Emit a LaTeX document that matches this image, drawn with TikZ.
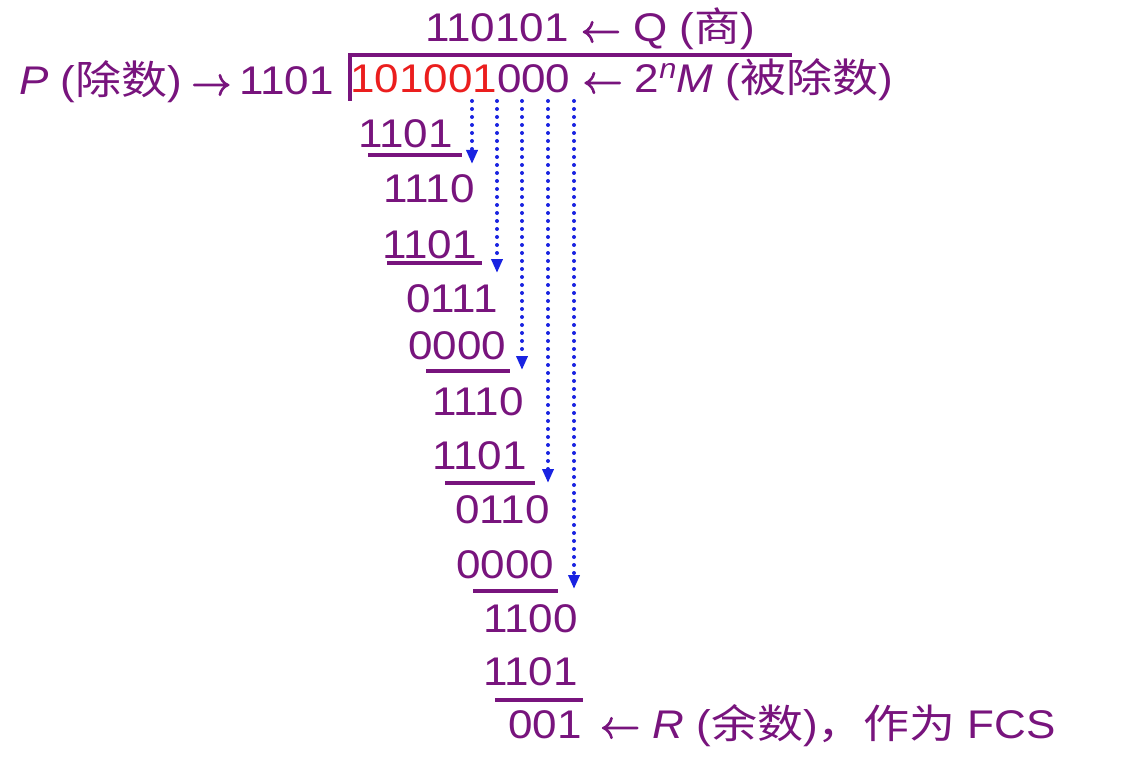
\documentclass[tikz,border=0pt]{standalone}
\usepackage{fontspec}
\usepackage{unicode-math}
\setmainfont{Liberation Sans}[FakeStretch=1.1]
\setmathfont{Latin Modern Math}[FakeBold=2.5]
\newfontfamily\cjk{Noto Sans CJK SC}[FakeStretch=1.15]
\usetikzlibrary{arrows.meta}
\definecolor{purp}{RGB}{120,20,125}
\definecolor{redd}{RGB}{235,30,30}
\definecolor{bluu}{RGB}{25,35,225}
\tikzset{
  txt/.style={inner sep=0pt, anchor=base west, text=purp, font=\fontsize{40}{48}\selectfont},
  rule/.style={draw=purp, line width=3.5pt},
  carry/.style={draw=bluu, line width=4pt, line cap=round, dash pattern=on 0pt off 8pt,
    -{Triangle[width=11pt,length=14pt]}},
}
\begin{document}
\begin{tikzpicture}[x=1pt,y=-1pt]
\useasboundingbox[fill=white] (0,0) rectangle (1126,762);
% header
\node[txt] (quot) at (425,42) {110101 $\leftarrow$ Q ({\cjk 商})};
\node[txt] (plabel) at (19,95) {\textit{P} ({\cjk 除数})};
\node[txt] (parrow) at (191,95) {$\rightarrow$};
\node[txt] (divisor) at (239,95) {1101};
\node[txt] (dividend) at (350,93) {{\color{redd}101001}000 $\leftarrow$ 2\textsuperscript{\textit{n}}\textit{M} ({\cjk 被除数})};
\draw[rule, line join=miter] (350,101) |- (792,55);
% rows
\node[txt] (r1) at (358,148) {1101};
\node[txt] (r2) at (383,202) {1110};
\node[txt] (r3) at (382,258) {1101};
\node[txt] (r4) at (406,312) {0111};
\node[txt] (r5) at (408,359) {0000};
\node[txt] (r6) at (432,415) {1110};
\node[txt] (r7) at (432,469) {1101};
\node[txt] (r8) at (455,523) {0110};
\node[txt] (r9) at (456,578) {0000};
\node[txt] (r10) at (483,632) {1100};
\node[txt] (r11) at (483,685) {1101};
\node[txt] (r12) at (508,738) {001};
\node[txt] (rlbl) at (600,738) {$\leftarrow$ \textit{R} ({\cjk 余数}){\cjk ，作为} FCS};
% underlines
\draw[rule] (368,155) -- (462,155);
\draw[rule] (387,263) -- (482,263);
\draw[rule] (426,371) -- (510,371);
\draw[rule] (445,483) -- (535,483);
\draw[rule] (473,591) -- (558,591);
\draw[rule] (495,700) -- (583,700);
% carried-down digits
\coordinate (s1) at (472,101); \coordinate (e1) at (472,164);
\coordinate (s2) at (497,101); \coordinate (e2) at (497,273);
\coordinate (s3) at (522,101); \coordinate (e3) at (522,370);
\coordinate (s4) at (548,101); \coordinate (e4) at (548,483);
\coordinate (s5) at (574,101); \coordinate (e5) at (574,589);
\draw[carry] (s1) -- (e1);
\draw[carry] (s2) -- (e2);
\draw[carry] (s3) -- (e3);
\draw[carry] (s4) -- (e4);
\draw[carry] (s5) -- (e5);
\end{tikzpicture}
\end{document}
